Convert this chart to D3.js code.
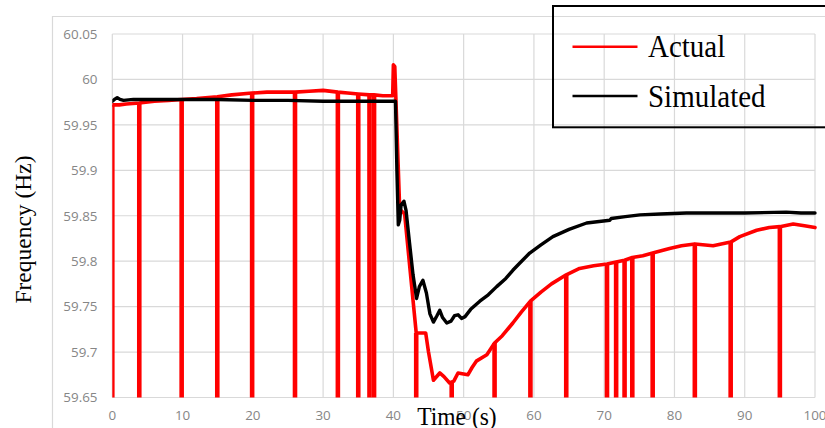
<!DOCTYPE html>
<html>
<head>
<meta charset="utf-8">
<script src="https://cdn.jsdelivr.net/npm/d3@7"></script>
<style>
  html, body { margin: 0; padding: 0; background: #fff; }
  svg { display: block; }
</style>
</head>
<body>
<svg id="chart" width="825" height="428"></svg>
<script>
// ---------------- data ----------------
const xTicks = [0, 10, 20, 30, 40, 50, 60, 70, 80, 90, 100];
const yTicks = [59.65, 59.7, 59.75, 59.8, 59.85, 59.9, 59.95, 60, 60.05];
const yTickLabels = ["59.65", "59.7", "59.75", "59.8", "59.85", "59.9", "59.95", "60", "60.05"];
const seriesNames = ["Actual", "Simulated"];
const xTitle = "Time (s)";
const yTitle = "Frequency (Hz)";

// Actual (measured) frequency, [time s, Hz]
const actual = [
  [0, 59.972], [1, 59.972], [2, 59.973], [3.84, 59.974], [6, 59.976], [8, 59.977],
  [9.87, 59.978], [12, 59.979], [14.94, 59.981], [17, 59.983], [19.9, 59.985],
  [22, 59.986], [24, 59.986], [26, 59.986], [28, 59.987], [30, 59.988], [32.1, 59.986],
  [33.5, 59.985], [35, 59.984], [36.6, 59.983], [37.25, 59.983], [38.5, 59.982],
  [39.9, 59.982], [40.0, 60.016], [40.2, 60.014], [40.9, 59.857], [41.6, 59.852],
  [43.25, 59.721], [44.6, 59.721], [45.0, 59.70], [45.7, 59.669], [46.6, 59.677],
  [47.2, 59.673], [48.0, 59.666], [48.6, 59.668], [49.2, 59.677], [50.6, 59.675],
  [51.2, 59.683], [51.8, 59.690], [53.3, 59.697], [54.4, 59.710], [55.5, 59.718],
  [57, 59.732], [58.2, 59.744], [59.5, 59.756], [61, 59.766], [62.5, 59.775],
  [64.6, 59.785], [66.5, 59.792], [68.5, 59.795], [70.4, 59.797], [71.7, 59.799],
  [72.9, 59.801], [74.0, 59.804], [75.5, 59.806], [76.9, 59.809], [79.3, 59.814],
  [81, 59.817], [82.9, 59.819], [85.5, 59.817], [88.0, 59.821], [89.3, 59.827],
  [91.7, 59.834], [93.5, 59.837], [95.0, 59.838], [96.9, 59.841], [98.5, 59.839],
  [100, 59.837]
];

// Measurement dropouts in the actual record: [time s, Hz before drop]
const dropouts = [
  [0, 59.972], [3.84, 59.974], [9.87, 59.978], [14.94, 59.981], [19.9, 59.985],
  [26.0, 59.986], [32.1, 59.986], [35.0, 59.984], [36.6, 59.983], [37.25, 59.983],
  [43.25, 59.721], [48.3, 59.667], [54.4, 59.710], [59.5, 59.756], [64.6, 59.785],
  [70.4, 59.797], [71.7, 59.799], [72.9, 59.801], [74.0, 59.804], [76.9, 59.809],
  [82.9, 59.819], [88.0, 59.821], [95.0, 59.838]
];
const dropoutFloor = 59.6;

// Simulated frequency, [time s, Hz]
const simulated = [
  [0, 59.976], [0.3, 59.978], [0.7, 59.980], [1.1, 59.978], [1.6, 59.977], [3, 59.978],
  [6, 59.978], [10, 59.978], [15, 59.978], [20, 59.977], [25, 59.977], [30, 59.976],
  [35, 59.976], [40.3, 59.976], [40.5, 59.90], [40.7, 59.840], [40.9, 59.845],
  [41.1, 59.862], [41.5, 59.866], [41.8, 59.856], [42.3, 59.82], [42.8, 59.785],
  [43.3, 59.759], [43.7, 59.772], [44.2, 59.779], [44.7, 59.765], [45.2, 59.742],
  [45.7, 59.733], [46.2, 59.740], [46.6, 59.746], [47.0, 59.738], [47.6, 59.732],
  [48.2, 59.734], [48.7, 59.740], [49.2, 59.741], [49.7, 59.737], [50.2, 59.739],
  [51, 59.747], [52.3, 59.756], [53.5, 59.763], [54.7, 59.772], [56, 59.781],
  [57, 59.790], [58, 59.798], [59.4, 59.809], [61, 59.818], [62.7, 59.827],
  [65, 59.835], [67.5, 59.842], [70.8, 59.845], [71.0, 59.847], [73, 59.849],
  [75.1, 59.851], [78, 59.852], [81.7, 59.853], [85, 59.853], [90, 59.853],
  [95.9, 59.854], [98, 59.853], [100, 59.853]
];

// ---------------- chart ----------------
const svg = d3.select("#chart");
const plot = { left: 112.3, right: 815, top: 34, bottom: 397.5 };

const x = d3.scaleLinear().domain([0, 100]).range([plot.left, plot.right]);
const y = d3.scaleLinear().domain([59.65, 60.05]).range([plot.bottom, plot.top]);

const gridColor = "#d9d9d9";
const tickColor = "#868686";

// outer chart frame
svg.append("path")
  .attr("d", "M52.5,428 V16.5 H826")
  .attr("fill", "none").attr("stroke", gridColor).attr("stroke-width", 1.2);

// gridlines
svg.append("g").selectAll("line").data(yTicks).join("line")
  .attr("x1", plot.left).attr("x2", plot.right)
  .attr("y1", d => y(d)).attr("y2", d => y(d))
  .attr("stroke", gridColor).attr("stroke-width", 1.2);
svg.append("g").selectAll("line").data(xTicks).join("line")
  .attr("x1", d => x(d)).attr("x2", d => x(d))
  .attr("y1", plot.top).attr("y2", plot.bottom)
  .attr("stroke", gridColor).attr("stroke-width", 1.2);

// tick labels
svg.append("g").selectAll("text").data(yTicks).join("text")
  .attr("x", 97.5).attr("y", d => y(d)).attr("dy", "0.36em")
  .attr("text-anchor", "end")
  .attr("font-family", "'Open Sans', sans-serif").attr("font-size", 13.4)
  .attr("fill", tickColor)
  .text((d, i) => yTickLabels[i]);
svg.append("g").selectAll("text").data(xTicks).join("text")
  .attr("x", d => x(d)).attr("y", 420)
  .attr("text-anchor", "middle")
  .attr("font-family", "'Open Sans', sans-serif").attr("font-size", 13.4)
  .attr("fill", tickColor)
  .text(d => d);

// clip
svg.append("defs").append("clipPath").attr("id", "clip")
  .append("rect").attr("x", plot.left).attr("y", plot.top - 20)
  .attr("width", plot.right - plot.left + 3).attr("height", plot.bottom - plot.top + 20);

const line = d3.line().x(d => x(d[0])).y(d => y(d[1]));
const g = svg.append("g").attr("clip-path", "url(#clip)");

// dropouts (vertical spikes of the measured signal)
g.append("g").selectAll("path").data(dropouts).join("path")
  .attr("d", d => line([[d[0], d[1]], [d[0], dropoutFloor]]))
  .attr("stroke", "#ff0000").attr("stroke-width", 4.6).attr("fill", "none");

g.append("path").datum(actual)
  .attr("d", line)
  .attr("fill", "none").attr("stroke", "#ff0000").attr("stroke-width", 3.6)
  .attr("stroke-linejoin", "round").attr("stroke-linecap", "round");

g.append("path").datum(simulated)
  .attr("d", line)
  .attr("fill", "none").attr("stroke", "#000").attr("stroke-width", 3.4)
  .attr("stroke-linejoin", "round").attr("stroke-linecap", "round");

// axis titles
svg.append("text")
  .attr("transform", "translate(457,425) scale(1,1.08)")
  .attr("text-anchor", "middle")
  .attr("font-family", "'Liberation Serif', 'Times New Roman', serif")
  .attr("font-size", 23.5).attr("fill", "#000")
  .text(xTitle);
svg.append("text")
  .attr("transform", "translate(31,229.5) rotate(-90)")
  .attr("text-anchor", "middle")
  .attr("font-family", "'Liberation Serif', 'Times New Roman', serif")
  .attr("font-size", 23.5).attr("fill", "#000")
  .text(yTitle);

// legend
const legend = svg.append("g");
legend.append("rect")
  .attr("x", 553).attr("y", 6).attr("width", 300).attr("height", 121.3)
  .attr("fill", "none").attr("stroke", "#000").attr("stroke-width", 2);
const legendColors = ["#ff0000", "#000"];
const legendY = [46.7, 96];
seriesNames.forEach((name, i) => {
  legend.append("line")
    .attr("x1", 572.5).attr("x2", 637.5)
    .attr("y1", legendY[i]).attr("y2", legendY[i])
    .attr("stroke", legendColors[i]).attr("stroke-width", 2.6);
  legend.append("text")
    .attr("transform", `translate(648,${legendY[i] + 10.5}) scale(1,1.1)`)
    .attr("font-family", "'Liberation Serif', 'Times New Roman', serif")
    .attr("font-size", 29).attr("fill", "#000")
    .text(name);
});
</script>
</body>
</html>
